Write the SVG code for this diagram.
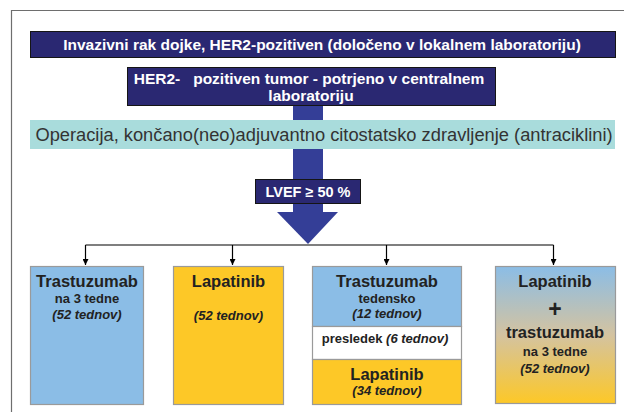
<svg xmlns="http://www.w3.org/2000/svg" width="624" height="412" viewBox="0 0 624 412">
<defs>
<style>
text{font-family:"Liberation Sans",Arial,sans-serif;font-weight:bold;text-anchor:middle}
.w{fill:#ffffff}
.d{fill:#222222}
.navy{fill:#2a2872;stroke:#151515;stroke-width:1}
.box{stroke:#9a9a9a;stroke-width:1.2}
.conn{stroke:#000;stroke-width:1.2;fill:none}
.big{font-size:16.5px}
.sm{font-size:13px}
.it{font-size:13px;font-style:italic}
</style>
<linearGradient id="g4" x1="0" y1="0" x2="0" y2="1">
<stop offset="0" stop-color="#8bbde6"/>
<stop offset="0.5" stop-color="#d4c3a0"/>
<stop offset="1" stop-color="#fdc827"/>
</linearGradient>
<marker id="ah" viewBox="0 0 10 10" refX="10" refY="5" markerWidth="6" markerHeight="6" markerUnits="userSpaceOnUse" orient="auto">
<path d="M0,0 L10,5 L0,10 z" fill="#000"/>
</marker>
</defs>
<rect width="624" height="412" fill="#ffffff"/>
<path d="M11.5,412 V10.5 H624" fill="none" stroke="#6e6e6e" stroke-width="1.2"/>

<g id="connectors">
<rect x="293" y="105" width="30" height="108" fill="#343e97"/>
<polygon points="277,212 338,212 308,244" fill="#343e97"/>
<path class="conn" d="M85.5,245 H553.5"/>
<path class="conn" d="M85.5,245 V265" marker-end="url(#ah)"/>
<path class="conn" d="M232.5,245 V265" marker-end="url(#ah)"/>
<path class="conn" d="M386.5,245 V265" marker-end="url(#ah)"/>
<path class="conn" d="M553.5,245 V265" marker-end="url(#ah)"/>
</g>

<g id="n-title">
<rect class="navy" x="30.5" y="31.5" width="585" height="26"/>
<text class="w" x="322" y="49.5" font-size="15.5">Invazivni rak dojke, HER2-pozitiven (določeno v lokalnem laboratoriju)</text>
</g>

<g id="n-her2">
<rect class="navy" x="127.5" y="67.5" width="368" height="38"/>
<text class="w" x="309" y="84" font-size="15.5" xml:space="preserve">HER2-   pozitiven tumor - potrjeno v centralnem</text>
<text class="w" x="311" y="100.5" font-size="15.5">laboratoriju</text>
</g>

<g id="n-op">
<rect x="30" y="120" width="585" height="29" fill="#a9dcdc"/>
<text x="324" y="141" font-size="18.3" fill="#333333" style="font-weight:normal">Operacija, končano(neo)adjuvantno citostatsko zdravljenje (antraciklini)</text>
</g>

<g id="n-lvef">
<rect class="navy" x="255.5" y="179.5" width="105" height="24"/>
<text class="w" x="308" y="197" font-size="14.5">LVEF ≥ 50 %</text>
</g>

<g id="n-b1">
<rect class="box" x="30.5" y="266.5" width="113" height="138" fill="#8bbde6"/>
<text class="d big" x="87" y="287">Trastuzumab</text>
<text class="d sm" x="87" y="303">na 3 tedne</text>
<text class="d it" x="87" y="319">(52 tednov)</text>
</g>

<g id="n-b2">
<rect class="box" x="173.5" y="266.5" width="110" height="138" fill="#fdc827"/>
<text class="d big" x="228.5" y="287">Lapatinib</text>
<text class="d it" x="228.5" y="320">(52 tednov)</text>
</g>

<g id="n-b3">
<rect class="box" x="312.5" y="266.5" width="149" height="60" fill="#8bbde6"/>
<rect class="box" x="312.5" y="326.5" width="149" height="33" fill="#ffffff"/>
<rect class="box" x="312.5" y="359.5" width="149" height="45" fill="#fdc827"/>
<text class="d big" x="387" y="287">Trastuzumab</text>
<text class="d sm" x="387" y="303">tedensko</text>
<text class="d it" x="387" y="318">(12 tednov)</text>
<text class="d sm" x="385" y="343">presledek <tspan font-style="italic">(6 tednov)</tspan></text>
<text class="d big" x="387" y="380">Lapatinib</text>
<text class="d it" x="387" y="395">(34 tednov)</text>
</g>

<g id="n-b4">
<rect class="box" x="495.5" y="266.5" width="120" height="137" fill="url(#g4)"/>
<text class="d big" x="555" y="287">Lapatinib</text>
<text class="d" x="555" y="317" font-size="23">+</text>
<text class="d big" x="555" y="338">trastuzumab</text>
<text class="d sm" x="555" y="356">na 3 tedne</text>
<text class="d it" x="555" y="373">(52 tednov)</text>
</g>
</svg>
